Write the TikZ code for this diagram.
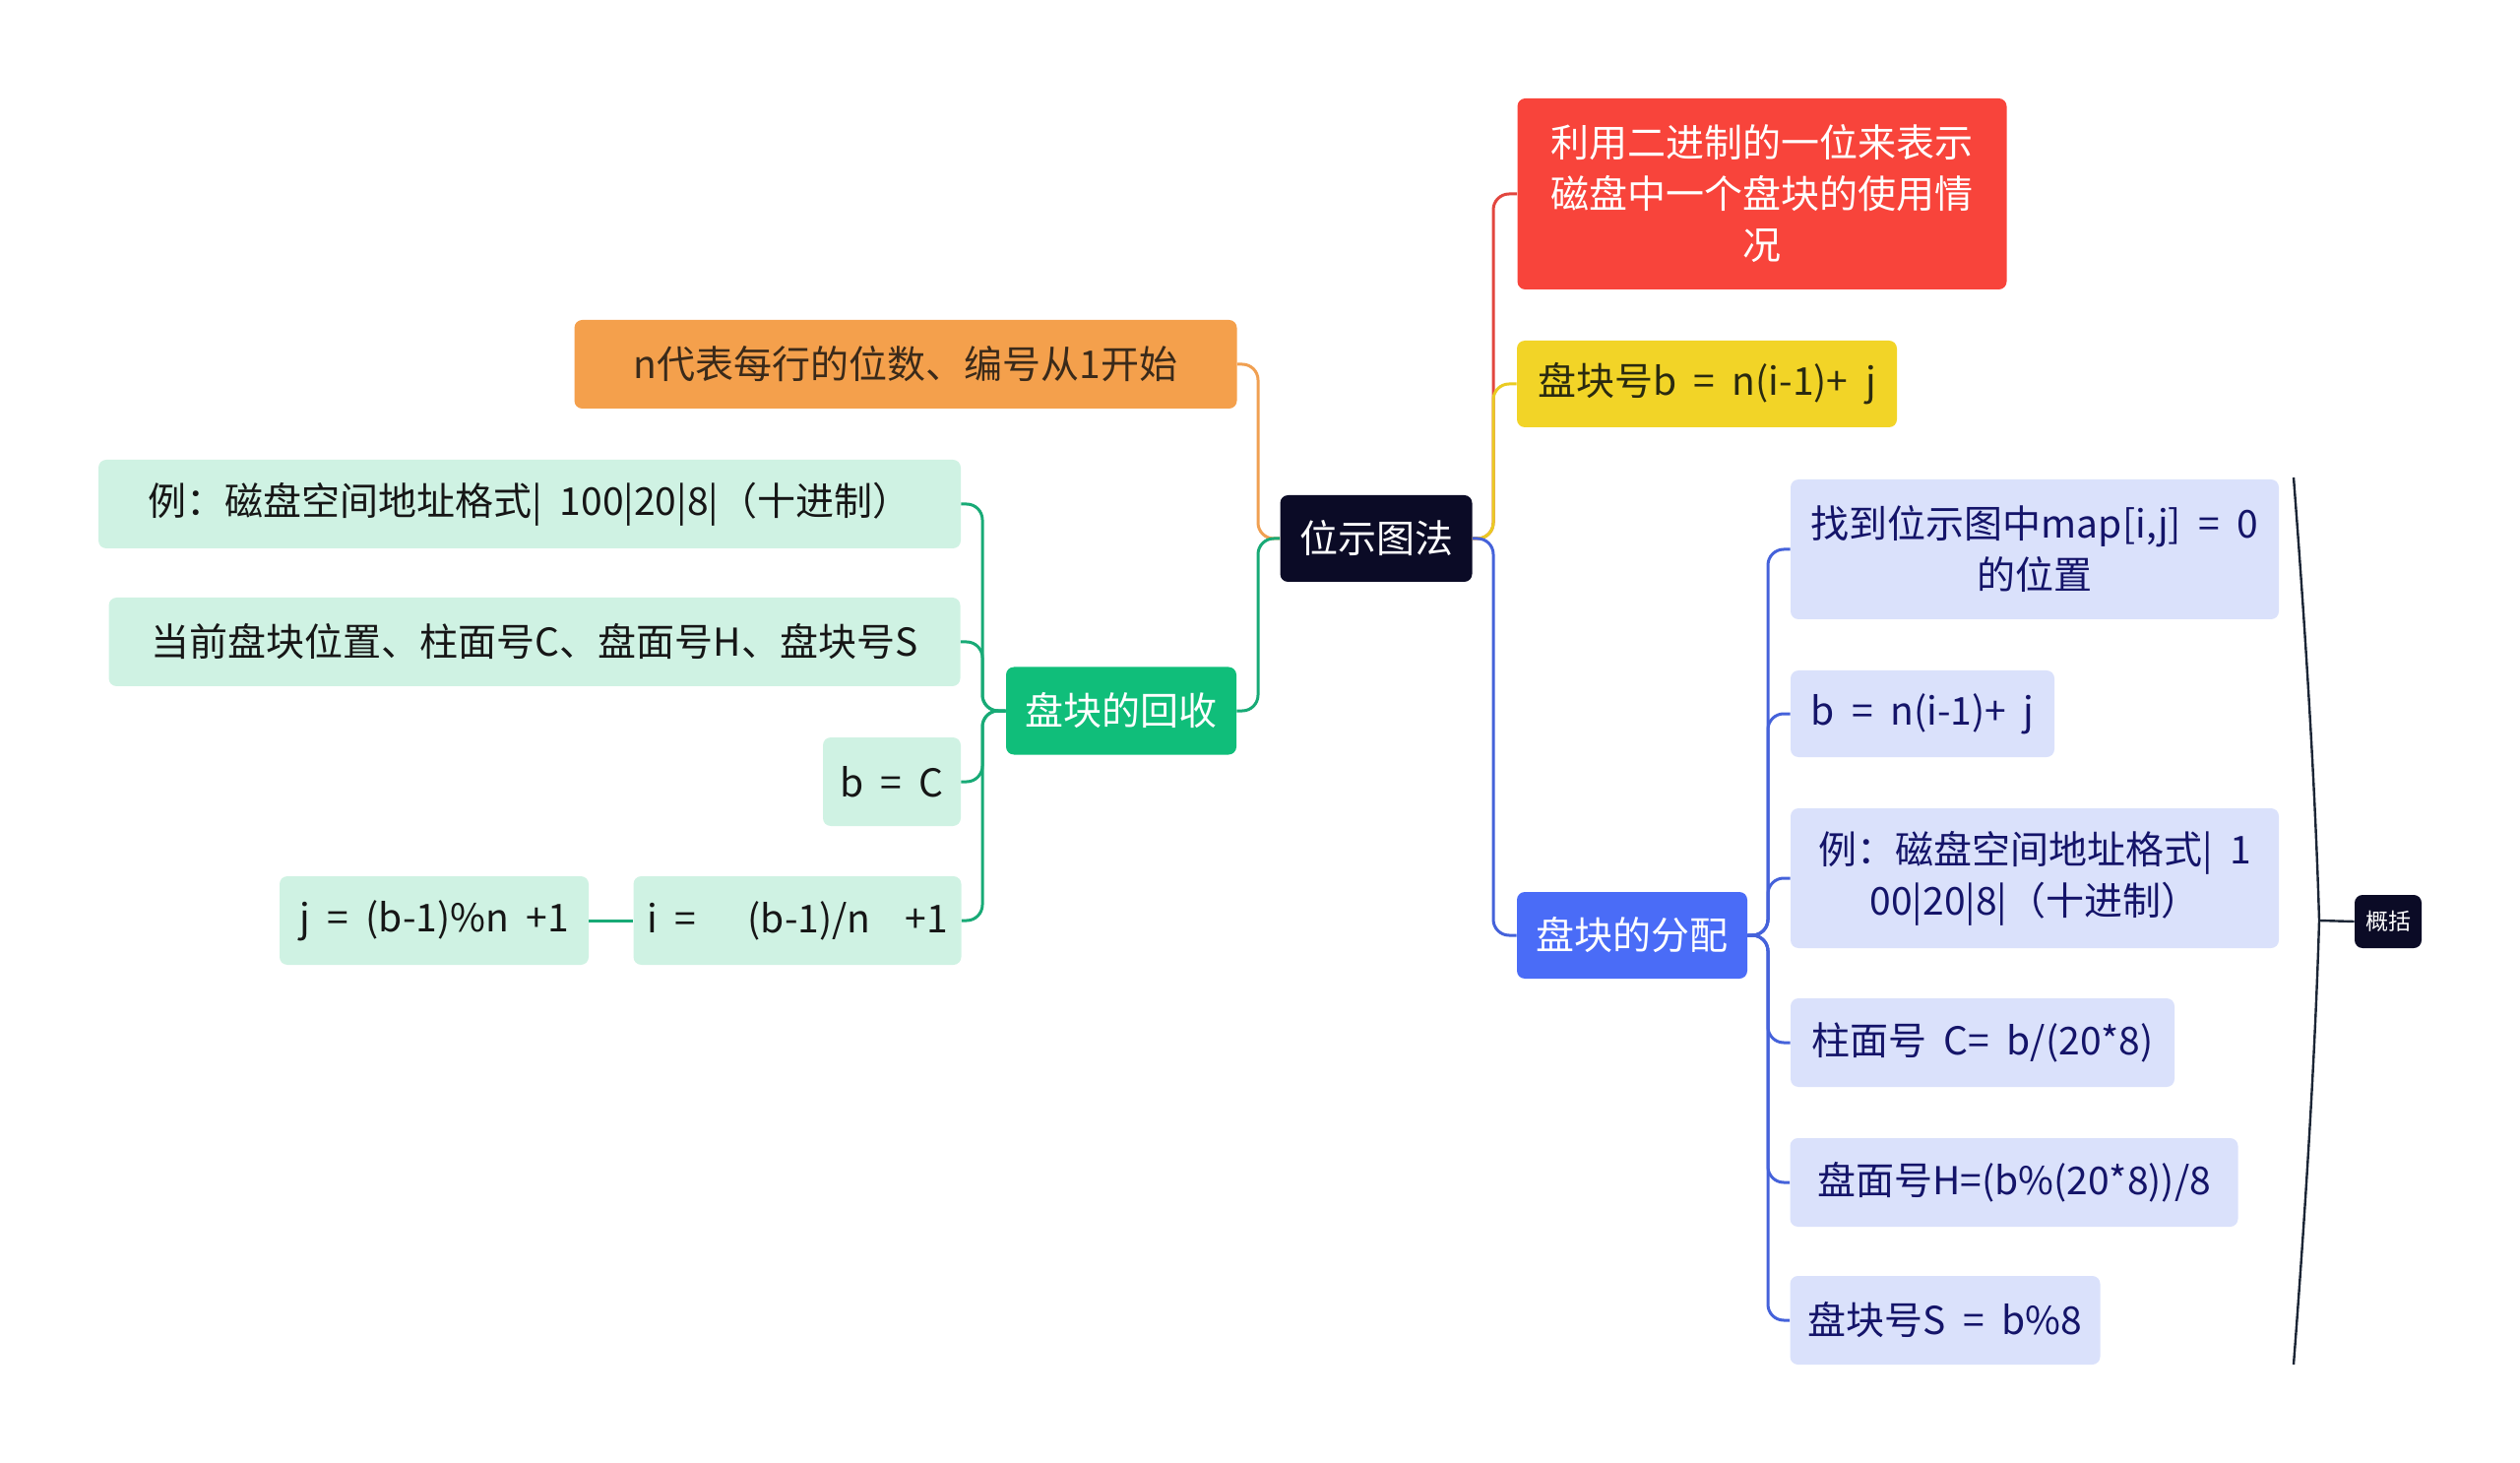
\documentclass[tikz,border=0pt]{standalone}
\usepackage{fontspec}
\setmainfont[WordSpace=2]{Noto Sans CJK SC}
\begin{document}
\begin{tikzpicture}[x=0.5pt,y=-0.5pt,
  box/.style={rounded corners=4pt, inner sep=0pt, align=center, font=\fontsize{19.5}{26}\selectfont},
  rootbox/.style={box, fill=rootc, text=white},
  redbox/.style={box, fill=redc, text=white},
  yelbox/.style={box, fill=yelc, text=yeltext},
  bluebox/.style={box, fill=bluec, text=white},
  lbbox/.style={box, fill=lbc, text=lbtext},
  orbox/.style={box, fill=orc, text=ortext},
  grbox/.style={box, fill=grc, text=white},
  lgbox/.style={box, fill=lgc, text=lgtext},
  conn/.style={line width=1.5pt, rounded corners=8pt},
]
\definecolor{rootc}{HTML}{0B0B26}
\definecolor{redc}{HTML}{F8443B}
\definecolor{yelc}{HTML}{F2D427}
\definecolor{yeltext}{HTML}{2A2A10}
\definecolor{bluec}{HTML}{4A6CF7}
\definecolor{lbc}{HTML}{DAE1FB}
\definecolor{lbtext}{HTML}{141469}
\definecolor{orc}{HTML}{F4A04C}
\definecolor{ortext}{HTML}{3A2A1A}
\definecolor{grc}{HTML}{10BE7A}
\definecolor{lgc}{HTML}{CFF2E3}
\definecolor{lgtext}{HTML}{161616}
\definecolor{redl}{HTML}{E2463F}
\definecolor{yell}{HTML}{EACB22}
\definecolor{bluel}{HTML}{4562DA}
\definecolor{orl}{HTML}{F0A052}
\definecolor{grl}{HTML}{18AA76}
\definecolor{bracec}{HTML}{1C2636}

\useasboundingbox (0,0) rectangle (2560,1486);

% root
\node[rootbox, minimum width=97.5pt, minimum height=44pt] (root) at (1398,547) {位示图法};

% right side
\node[redbox, minimum width=248.5pt, minimum height=97pt] (red) at (1790,197) {利用二进制的一位来表示\\磁盘中一个盘块的使用情\\况};
\node[yelbox, minimum width=193pt, minimum height=44pt] (yel) at (1734,390) {盘块号b = n(i-1)+ j};
\node[bluebox, minimum width=117pt, minimum height=44pt] (blue) at (1658,950) {盘块的分配};

\node[lbbox, minimum width=248pt, minimum height=71pt] (lb1) at (2067,558) {找到位示图中map[i,j] = 0\\的位置};
\node[lbbox, minimum width=134pt, minimum height=44pt] (lb2) at (1953,725) {b = n(i-1)+ j};
\node[lbbox, minimum width=248pt, minimum height=71pt] (lb3) at (2067,892) {例：磁盘空间地址格式| 1\\00|20|8|（十进制）};
\node[lbbox, minimum width=195pt, minimum height=45pt] (lb4) at (2014,1059) {柱面号 C= b/(20*8)};
\node[lbbox, minimum width=227.5pt, minimum height=45pt] (lb5) at (2046,1201) {盘面号H=(b\%(20*8))/8};
\node[lbbox, minimum width=157.5pt, minimum height=45pt] (lb6) at (1976,1341) {盘块号S = b\%8};

\node[box, fill=rootc, text=white, font=\fontsize{11.5}{14}\selectfont, minimum width=34pt, minimum height=27pt] (sum) at (2426,936) {概括};

% left side
\node[orbox, minimum width=336.5pt, minimum height=45pt] (or) at (920,370) {n代表每行的位数、编号从1开始};
\node[grbox, minimum width=117pt, minimum height=44.5pt] (gr) at (1139,722) {盘块的回收};

\node[lgbox, minimum width=438pt, minimum height=45pt] (lg1) at (538,512) {例：磁盘空间地址格式| 100|20|8|（十进制）};
\node[lgbox, minimum width=432.5pt, minimum height=45pt] (lg2) at (543,652) {当前盘块位置、柱面号C、盘面号H、盘块号S};
\node[lgbox, minimum width=70pt, minimum height=45pt] (lg3) at (906,794) {b = C};
\node[lgbox, minimum width=166.5pt, minimum height=45pt] (lg4) at (810,935) {i =\ \ \ (b-1)/n\ \ +1};
\node[lgbox, minimum width=157pt, minimum height=45pt] (lg5) at (441,935) {j = (b-1)\%n +1};

% trunk coordinates
\coordinate (tR) at (1517,547);
\coordinate (tL) at (1278,547);
\coordinate (tB) at (1796,950);
\coordinate (tG) at (998,722);

% right connectors
\draw[conn, draw=redl] (root.east) -- (tR) |- (red.west);
\draw[conn, draw=yell] (root.east) -- (tR) |- (yel.west);
\draw[conn, draw=bluel] (root.east) -- (tR) |- (blue.west);

\foreach \n in {lb1,lb2,lb3,lb4,lb5,lb6}{
  \draw[conn, draw=bluel] (blue.east) -- (tB) |- (\n.west);
}

% left connectors
\draw[conn, draw=orl] (root.west) -- (tL) |- (or.east);
\draw[conn, draw=grl] (root.west) -- (tL) |- (gr.east);

\foreach \n in {lg1,lg2,lg3,lg4}{
  \draw[conn, draw=grl] (gr.west) -- (tG) |- (\n.east);
}
\draw[conn, draw=grl] (lg4.west) -- (lg5.east);

% summary brace
\coordinate (bt) at (2330,485);
\coordinate (bm) at (2356,935);
\coordinate (bb) at (2330,1386);
\draw[line width=1.2pt, draw=bracec] (bt) .. controls (2342,640) and (2352,800) .. (bm) .. controls (2352,1070) and (2342,1230) .. (bb);
\draw[line width=1.2pt, draw=bracec] (bm) -- (sum.west);
\end{tikzpicture}
\end{document}
